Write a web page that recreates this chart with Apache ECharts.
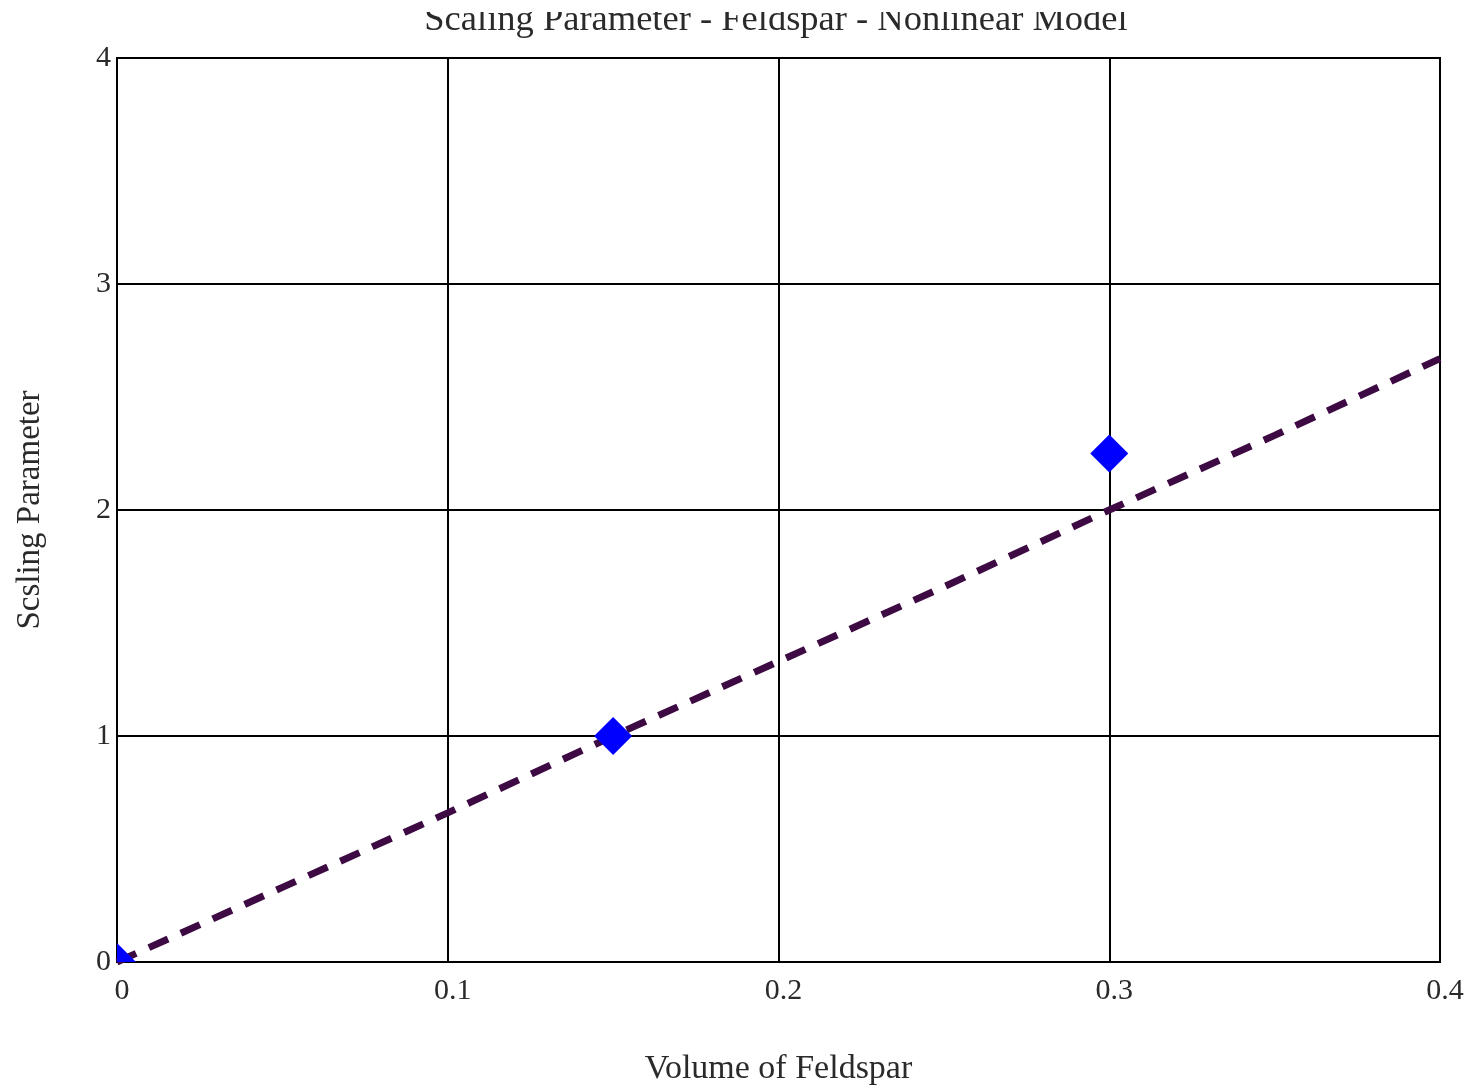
<!DOCTYPE html>
<html>
<head>
<meta charset="utf-8">
<script src="https://cdn.jsdelivr.net/npm/echarts@6/dist/echarts.min.js"></script>
<style>
  html, body { margin: 0; padding: 0; background: #fff; }
  #chart { width: 1476px; height: 1088px; }
</style>
</head>
<body>
<div id="chart"></div>
<script>
// Measured scaling parameter at three feldspar volume fractions
const measuredX = [0, 0.15, 0.3];
const measuredY = [0, 1.0, 2.25];

// Model curve sampled across the volume range
const modelX = [0, 0.05, 0.1, 0.15, 0.2, 0.25, 0.3, 0.35, 0.4];
const modelY = [0, 0.33, 0.66, 1.0, 1.33, 1.66, 2.0, 2.33, 2.67];

// Axis ranges and tick steps
const xRange = [0, 0.4], xStep = 0.1;
const yRange = [0, 4], yStep = 1;

const serif = '"Liberation Serif", "DejaVu Serif", serif';
const textColor = '#2a2a2a';
const markerSize = 38;

// Diamond markers, clipped to the plotting area so points on the frame are cut off
function renderDiamond(params, api) {
  const c = api.coord([api.value(0), api.value(1)]);
  const r = markerSize / 2;
  const cs = params.coordSys;
  const pts = echarts.graphic.clipPointsByRect(
    [[c[0], c[1] - r], [c[0] + r, c[1]], [c[0], c[1] + r], [c[0] - r, c[1]]],
    { x: cs.x, y: cs.y, width: cs.width, height: cs.height }
  );
  return {
    type: 'polygon',
    shape: { points: pts },
    style: { fill: '#0000ff' }
  };
}

const chart = echarts.init(document.getElementById('chart'));
chart.setOption({
  animation: false,
  backgroundColor: '#fff',
  title: {
    text: 'Scaling Parameter - Feldspar - Nonlinear Model',
    left: 771,
    textAlign: 'center',
    top: -3,
    textStyle: { fontFamily: serif, fontSize: 36.5, fontWeight: 'normal', color: textColor }
  },
  // the page's top strip trims the upper part of the title
  graphic: [{
    type: 'rect',
    left: 0, top: 0, z: 100,
    shape: { width: 1476, height: 12 },
    style: { fill: '#fff' }
  }],
  grid: {
    left: 117, right: 36, top: 58, bottom: 126,
    containLabel: false,
    outerBoundsMode: 'none',
    show: true, borderColor: '#000', borderWidth: 2, backgroundColor: 'transparent'
  },
  xAxis: {
    type: 'value',
    min: xRange[0], max: xRange[1], interval: xStep,
    name: 'Volume of Feldspar',
    nameLocation: 'middle',
    nameGap: 90,
    nameTextStyle: { fontFamily: serif, fontSize: 34, color: textColor },
    axisLine: { show: true, lineStyle: { color: '#000', width: 2 } },
    axisTick: { show: false },
    axisLabel: {
      fontFamily: serif, fontSize: 30, color: textColor, margin: 14,
      padding: [0, 0, 0, 10],
      formatter: v => String(Math.round(v * 10) / 10)
    },
    splitLine: { show: true, lineStyle: { color: '#000', width: 2 } }
  },
  yAxis: {
    type: 'value',
    min: yRange[0], max: yRange[1], interval: yStep,
    name: 'Scsling Parameter',
    nameLocation: 'middle',
    nameGap: 70,
    nameRotate: 90,
    nameTextStyle: { fontFamily: serif, fontSize: 33, color: textColor },
    axisLine: { show: true, lineStyle: { color: '#000', width: 2 } },
    axisTick: { show: false },
    axisLabel: { fontFamily: serif, fontSize: 30, color: textColor, margin: 6, padding: [8, 0, 0, 0] },
    splitLine: { show: true, lineStyle: { color: '#000', width: 2 } }
  },
  series: [
    {
      type: 'line',
      data: modelX.map((x, i) => [x, modelY[i]]),
      showSymbol: false,
      smooth: false,
      clip: true,
      lineStyle: { color: '#3e0a44', width: 7, type: [21, 14] },
      z: 3
    },
    {
      type: 'custom',
      data: measuredX.map((x, i) => [x, measuredY[i]]),
      renderItem: renderDiamond,
      clip: false,
      z: 4
    }
  ]
});
</script>
</body>
</html>
